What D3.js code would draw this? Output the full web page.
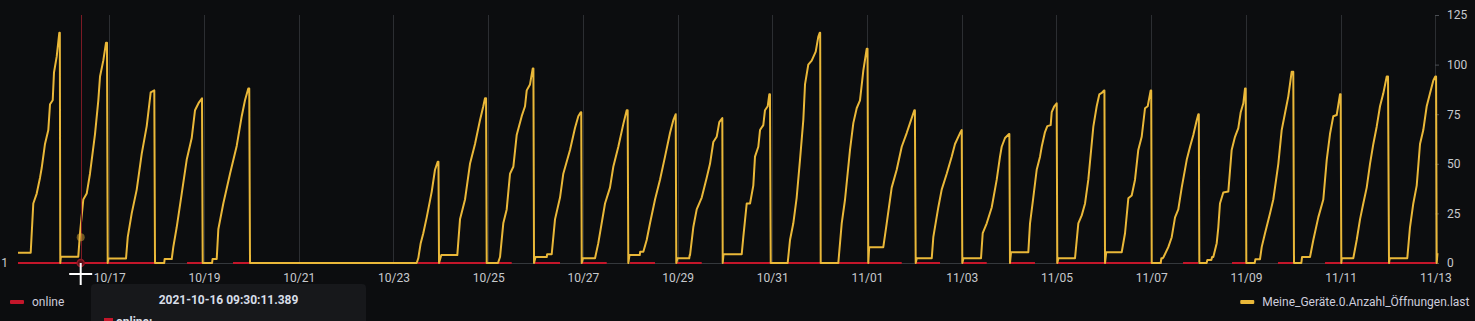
<!DOCTYPE html>
<html>
<head>
<meta charset="utf-8">
<script src="https://cdn.jsdelivr.net/npm/d3@7"></script>
<style>
  html, body { margin: 0; padding: 0; background: #0c0d0f; }
  svg { display: block; font-family: Roboto, "Noto Sans", sans-serif; }
</style>
</head>
<body>
<svg id="chart" width="1475" height="321"></svg>
<script>
// ---- data (time in days from 10/16 00:00) ----
const tickDays = [1, 3, 5, 7, 9, 11, 13, 15, 17, 19, 21, 23, 25, 27, 29];
const tickLabels = ["10/17", "10/19", "10/21", "10/23", "10/25", "10/27", "10/29", "10/31",
                    "11/01", "11/03", "11/05", "11/07", "11/09", "11/11", "11/13"];
const yTicks = [0, 25, 50, 75, 100, 125];
const onlineTicks = [1];

const seriesNames = ["online", "Meine_Geräte.0.Anzahl_Öffnungen.last"];

// online = 1 during these spans [start, end]
const onlineSpans = [
  [-0.928, 2.176], [2.641, 3.190], [3.612, 3.971], [6.378, 6.420], [7.518, 9.497],
  [9.989, 10.517], [10.975, 11.503], [11.995, 12.523], [12.981, 13.509], [13.965, 17.732],
  [18.013, 18.541], [19.005, 19.527], [20.018, 20.546], [21.004, 23.222], [23.672, 23.988],
  [24.706, 25.002], [25.677, 25.994], [26.670, 29.030]
];

// Meine_Geräte.0.Anzahl_Öffnungen.last  [day, value]
const openings = [
  [-0.928,5.2],[-0.660,5.2],[-0.605,30],[-0.533,35],[-0.463,43],[-0.427,48],[-0.358,60],[-0.288,67],[-0.252,80],[-0.195,82],[-0.168,96],[-0.111,104],[-0.056,116],[-0.045,116],[-0.035,0],[-0.022,3.2],
  [0.345,3.2],[0.381,15],[0.451,32],[0.523,35],[0.592,45],[0.698,65],[0.768,82],[0.804,94],[0.873,102],[0.930,111],[0.951,111],[0.966,0],[0.977,2.3],
  [1.353,2.3],[1.389,13],[1.473,25],[1.579,37],[1.684,55],[1.790,69],[1.874,86],[1.950,87],[1.965,0],[2.160,0],[2.168,2],
  [2.318,2],[2.351,8],[2.423,18],[2.529,35],[2.634,52],[2.740,63],[2.810,77],[2.894,81],[2.957,83],[2.972,0],[3.170,0],[3.180,2],
  [3.268,2],[3.302,17],[3.407,30],[3.549,45],[3.690,59],[3.796,74],[3.865,82],[3.935,88],[3.955,88],[3.971,0],
  [7.491,0],[7.525,2.5],[7.575,10],[7.630,15],[7.702,23],[7.808,36],[7.877,47],[7.934,51],[7.950,51],[7.962,0],[8.010,4],[8.348,4],
  [8.405,22],[8.511,32],[8.616,50],[8.722,60],[8.827,72],[8.897,79],[8.933,83],[8.955,83],[8.969,0],[9.207,0],
  [9.250,3],[9.319,20],[9.391,27],[9.461,45],[9.531,48.5],[9.602,64.5],[9.708,74],[9.778,79],[9.814,87],[9.883,90],[9.940,98],[9.955,98],[9.968,0],[10.000,3],[10.236,3],[10.245,4.4],[10.341,4.4],
  [10.411,22],[10.517,33],[10.586,45],[10.728,57],[10.833,68],[10.903,74],[10.954,76],[10.965,76],[10.975,0],[11.000,2.4],[11.256,2.4],
  [11.325,10],[11.467,30],[11.572,38],[11.642,48.5],[11.748,58.6],[11.853,70],[11.925,77],[11.945,77],[11.959,0],[11.984,4],[12.200,4],[12.210,5.7],[12.276,5.7],
  [12.347,11.6],[12.417,20],[12.523,32],[12.628,42],[12.734,53.6],[12.839,65.5],[12.909,72],[12.960,75],[12.972,0],[12.998,2.4],[13.245,2.4],[13.255,4],[13.262,4],
  [13.331,18],[13.403,27],[13.509,33],[13.614,43],[13.684,50],[13.754,61],[13.825,63.6],[13.880,71],[13.944,73],[13.952,0],[13.969,4.4],[14.353,4.4],
  [14.387,13],[14.459,30],[14.529,30],[14.598,39],[14.634,53.6],[14.704,58.6],[14.740,67],[14.809,69.5],[14.845,77],[14.902,79],[14.936,85],[14.950,85],[14.966,0],[15.324,0],
  [15.373,11.6],[15.443,20],[15.514,33],[15.584,52],[15.654,72],[15.690,90],[15.759,100],[15.831,102],[15.916,106.5],[15.970,114],[16.000,116],[16.010,116],[16.021,0],[16.393,0],
  [16.465,20],[16.535,32],[16.640,57],[16.710,70.5],[16.781,78],[16.851,82],[16.921,97],[16.993,108],[17.010,108],[17.026,0],[17.045,8],[17.343,8],
  [17.415,20],[17.520,38],[17.626,47],[17.732,58.6],[17.837,65.5],[17.907,70.5],[17.998,77],[18.010,77],[18.027,0],[18.050,2.4],[18.366,2.4],
  [18.399,13],[18.504,28],[18.576,37],[18.682,45],[18.787,53.6],[18.857,60],[18.963,65.5],[18.999,67],[19.011,0],[19.036,2.4],[19.406,2.4],
  [19.442,15],[19.527,20],[19.632,28],[19.738,42],[19.807,53.6],[19.843,58.6],[19.913,63],[19.997,65],[20.005,65],[20.018,0],[20.040,5.4],[20.405,5.4],
  [20.441,20],[20.510,33],[20.582,47],[20.652,53.6],[20.688,58.6],[20.757,66],[20.806,69],[20.877,69.5],[20.899,76],[20.953,79],[21.004,80.5],[21.017,0],[21.040,2.4],[21.391,2.4],
  [21.461,20],[21.533,24],[21.603,30],[21.672,42],[21.778,68.7],[21.849,79],[21.904,85],[21.955,85.7],[22.004,87],[22.012,87],[22.025,0],[22.050,5.4],[22.377,5.4],
  [22.447,15],[22.517,32.6],[22.588,34],[22.658,42],[22.727,57],[22.799,63.6],[22.869,78],[22.926,79],[22.989,87],[23.000,87],[23.011,0],[23.200,0],[23.215,2.4],[23.240,2.4],[23.261,3],
  [23.361,8],[23.433,13],[23.503,23],[23.572,27],[23.644,38],[23.750,52],[23.820,58.6],[23.889,64.5],[23.961,72],[23.995,75],[24.005,75],[24.016,0],[24.170,0],[24.185,1.5],[24.270,1.5],[24.285,3],
  [24.311,3],[24.383,10],[24.417,18],[24.452,30],[24.522,35.5],[24.628,36],[24.699,57],[24.769,63.6],[24.839,68],[24.890,76],[24.945,80.5],[24.981,88],[24.995,88],[25.008,0],[25.185,0],[25.200,1.9],[25.297,1.9],
  [25.333,8],[25.403,15],[25.508,25],[25.578,32],[25.684,50],[25.755,67],[25.825,75.5],[25.895,84],[25.966,96.4],[26.000,96.4],[26.015,0],[26.170,0],[26.185,3],[26.353,3],
  [26.423,11.6],[26.528,23],[26.634,32],[26.706,52],[26.775,65],[26.845,74],[26.917,74.6],[26.986,85],[27.000,85],[27.014,0],[27.025,2.4],[27.267,2.4],
  [27.339,11.6],[27.409,22],[27.478,30],[27.550,38],[27.620,50],[27.690,60],[27.761,68.7],[27.831,79],[27.901,85.5],[27.973,94],[28.000,94],[28.021,0],[28.035,2.4],[28.407,2.4],
  [28.464,18],[28.534,30],[28.606,39],[28.676,60],[28.745,67],[28.817,79],[28.887,85.5],[28.957,92],[28.999,94],[29.015,94],[29.028,0],[29.045,5]
];

// hover / tooltip state
const hoverLabel = "2021-10-16 09:30:11.389";
const hoverDay = (9 + 30 / 60 + 11.389 / 3600) / 24;
const hoverOnline = 1;
const hoverOpenings = 13;

// ---- drawing ----
const svg = d3.select("#chart");
const W = 1475, H = 321;
const plot = { left: 18, right: 1437.5, top: 15, bottom: 263 };
const axisX = 1435;

const colors = { online: "#C4162A", openings: "#EAB839", grid: "#2c2e32", text: "#c7c9cd", legend: "#ccccdc" };

const x = d3.scaleLinear().domain([-0.928, 29.045]).range([plot.left, plot.right]);
const yR = d3.scaleLinear().domain([0, 125]).range([plot.bottom, plot.top]);
const yL = d3.scaleLinear().domain([1, 2]).range([plot.bottom, plot.top]);

svg.append("rect").attr("width", W).attr("height", H).attr("fill", "#0c0d0f");

// vertical grid
svg.append("g").selectAll("line").data(tickDays).join("line")
  .attr("x1", d => Math.round(x(d)) + 0.5).attr("x2", d => Math.round(x(d)) + 0.5)
  .attr("y1", plot.top).attr("y2", plot.bottom)
  .attr("stroke", colors.grid).attr("stroke-width", 1);

// bottom line
svg.append("line").attr("x1", plot.left).attr("x2", axisX)
  .attr("y1", plot.bottom + 0.5).attr("y2", plot.bottom + 0.5)
  .attr("stroke", "#35383c").attr("stroke-width", 1);

// x axis
const gx = svg.append("g").attr("transform", `translate(0,${plot.bottom})`)
  .call(d3.axisBottom(x).tickValues(tickDays).tickFormat((d, i) => tickLabels[i]).tickSize(0).tickPadding(10.5));
gx.select(".domain").remove();
gx.selectAll("text").attr("fill", colors.text).style("font-size", "12px").style("font-family", "Roboto");

// right axis
const gy = svg.append("g").attr("transform", `translate(${axisX},0)`)
  .call(d3.axisRight(yR).tickValues(yTicks).tickSize(4).tickPadding(8));
gy.select(".domain").remove();
gy.selectAll("line").attr("stroke", "#4a4d52");
gy.selectAll("text").attr("fill", colors.text).style("font-size", "12px").style("font-family", "Roboto");

// left axis
const gl = svg.append("g").attr("transform", `translate(${plot.left},0)`)
  .call(d3.axisLeft(yL).tickValues(onlineTicks).tickFormat(d3.format("d")).tickSize(0).tickPadding(10));
gl.select(".domain").remove();
gl.selectAll("text").attr("fill", colors.text).style("font-size", "12px").style("font-family", "Roboto");

// online series
const onlinePts = [];
onlineSpans.forEach(([s, e]) => { onlinePts.push([s, 1], [e, 1], null); });
const lineOnline = d3.line().defined(d => d !== null).x(d => x(d[0])).y(d => yL(d[1]));
svg.append("path").datum(onlinePts).attr("d", lineOnline)
  .attr("fill", "none").attr("stroke", colors.online).attr("stroke-width", 2);

// openings series
const lineOpen = d3.line().x(d => x(d[0])).y(d => yR(d[1]));
svg.append("path").datum(openings).attr("d", lineOpen)
  .attr("fill", "none").attr("stroke", colors.openings).attr("stroke-width", 2)
  .attr("stroke-linejoin", "round");

// hover crosshair
const hx = Math.round(x(hoverDay)) + 0.5;
svg.append("line").attr("x1", hx).attr("x2", hx).attr("y1", plot.top).attr("y2", plot.bottom)
  .attr("stroke", "#7c1a24").attr("stroke-width", 1);
svg.append("circle").attr("cx", x(hoverDay)).attr("cy", yR(hoverOpenings)).attr("r", 4)
  .attr("fill", colors.openings).attr("fill-opacity", 0.45);
svg.append("circle").attr("cx", x(hoverDay)).attr("cy", yL(hoverOnline)).attr("r", 3.5)
  .attr("fill", "#5a1018").attr("stroke", "#8e1a26").attr("stroke-width", 1.5);

// legends
const legY = 302;
svg.append("rect").attr("x", 10).attr("y", legY - 2).attr("width", 14).attr("height", 4).attr("rx", 1)
  .attr("fill", colors.online);
svg.append("text").attr("x", 32).attr("y", legY + 4).text(seriesNames[0])
  .attr("fill", colors.legend).style("font-size", "12px");
const rt = svg.append("text").attr("x", 1469.5).attr("y", legY + 4).attr("text-anchor", "end")
  .text(seriesNames[1]).attr("fill", colors.legend).style("font-size", "12px");
const rtw = rt.node().getComputedTextLength();
svg.append("rect").attr("x", 1469.5 - rtw - 22).attr("y", legY - 2).attr("width", 14).attr("height", 4).attr("rx", 1)
  .attr("fill", colors.openings);

// tooltip
const tip = svg.append("g");
tip.append("rect").attr("x", 91).attr("y", 284).attr("width", 275).attr("height", 60).attr("rx", 4)
  .attr("fill", "#17181b");
tip.append("text").attr("x", 228.5).attr("y", 303.5).attr("text-anchor", "middle")
  .text(hoverLabel).attr("fill", "#d8dee8").style("font-size", "12px").style("font-weight", "bold");
tip.append("rect").attr("x", 104).attr("y", 318).attr("width", 9).attr("height", 3).attr("fill", colors.online);
tip.append("text").attr("x", 116).attr("y", 326).text(seriesNames[0] + ":")
  .attr("fill", "#d8dee8").style("font-size", "12px").style("font-weight", "bold");

// mouse cursor (crosshair)
const cy = 274;
svg.append("line").attr("x1", x(hoverDay) - 11.5).attr("x2", x(hoverDay) + 11.5).attr("y1", cy).attr("y2", cy)
  .attr("stroke", "#ffffff").attr("stroke-width", 2);
svg.append("line").attr("x1", x(hoverDay)).attr("x2", x(hoverDay)).attr("y1", cy - 11).attr("y2", cy + 11)
  .attr("stroke", "#ffffff").attr("stroke-width", 2);
</script>
</body>
</html>
